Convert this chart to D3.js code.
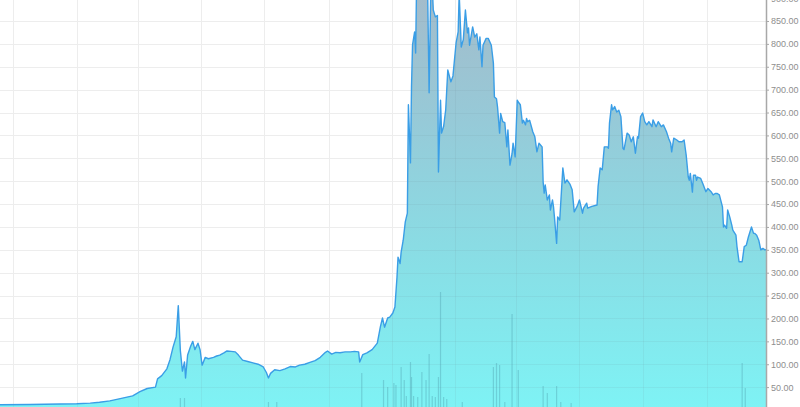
<!DOCTYPE html>
<html>
<head>
<meta charset="utf-8">
<script src="https://cdn.jsdelivr.net/npm/d3@7"></script>
<style>
html,body{margin:0;padding:0;background:#fff;overflow:hidden;}
svg{display:block;}
</style>
</head>
<body>
<svg id="chart" width="800" height="407"></svg>
<script>
// ---- data ----
const priceDates = ["2012-10-19","2012-11-17","2012-12-16","2013-01-01","2013-01-14","2013-01-23","2013-02-02","2013-02-12","2013-02-24","2013-03-03","2013-03-10","2013-03-18","2013-03-20","2013-03-24","2013-03-29","2013-04-01","2013-04-04","2013-04-07","2013-04-09","2013-04-11","2013-04-13","2013-04-15","2013-04-16","2013-04-18","2013-04-21","2013-04-23","2013-04-25","2013-04-28","2013-04-30","2013-05-02","2013-05-05","2013-05-08","2013-05-13","2013-05-16","2013-05-19","2013-05-23","2013-05-26","2013-05-30","2013-06-03","2013-06-06","2013-06-10","2013-06-15","2013-06-20","2013-06-25","2013-06-30","2013-07-03","2013-07-05","2013-07-07","2013-07-11","2013-07-16","2013-07-21","2013-07-26","2013-07-31","2013-08-04","2013-08-09","2013-08-14","2013-08-19","2013-08-24","2013-08-29","2013-08-31","2013-09-04","2013-09-08","2013-09-12","2013-09-17","2013-09-22","2013-09-26","2013-09-30","2013-10-01","2013-10-04","2013-10-08","2013-10-13","2013-10-18","2013-10-21","2013-10-23","2013-10-25","2013-10-28","2013-10-30","2013-11-02","2013-11-04","2013-11-06","2013-11-07","2013-11-09","2013-11-10","2013-11-12","2013-11-14","2013-11-16","2013-11-17","2013-11-19","2013-11-20","2013-11-21","2013-11-23","2013-11-24","2013-11-25","2013-11-27","2013-11-29","2013-12-01","2013-12-03","2013-12-05","2013-12-07","2013-12-09","2013-12-11","2013-12-13","2013-12-15","2013-12-16","2013-12-18","2013-12-19","2013-12-21","2013-12-23","2013-12-25","2013-12-28","2013-12-30","2014-01-02","2014-01-04","2014-01-05","2014-01-07","2014-01-09","2014-01-11","2014-01-13","2014-01-14","2014-01-15","2014-01-18","2014-01-20","2014-01-22","2014-01-24","2014-01-25","2014-01-27","2014-01-28","2014-01-31","2014-02-02","2014-02-05","2014-02-07","2014-02-08","2014-02-10","2014-02-11","2014-02-13","2014-02-14","2014-02-16","2014-02-18","2014-02-20","2014-02-21","2014-02-23","2014-02-25","2014-02-26","2014-02-28","2014-03-02","2014-03-03","2014-03-05","2014-03-07","2014-03-08","2014-03-10","2014-03-11","2014-03-12","2014-03-14","2014-03-17","2014-03-19","2014-03-21","2014-03-23","2014-03-26","2014-03-27","2014-03-28","2014-03-29","2014-03-31","2014-04-02","2014-04-03","2014-04-05","2014-04-06","2014-04-07","2014-04-09","2014-04-10","2014-04-12","2014-04-15","2014-04-17","2014-04-19","2014-04-22","2014-04-24","2014-04-26","2014-04-29","2014-05-01","2014-05-04","2014-05-05","2014-05-08","2014-05-09","2014-05-13","2014-05-18","2014-05-19","2014-05-21","2014-05-23","2014-05-25","2014-05-28","2014-05-29","2014-05-30","2014-06-01","2014-06-02","2014-06-04","2014-06-06","2014-06-08","2014-06-10","2014-06-12","2014-06-13","2014-06-16","2014-06-18","2014-06-20","2014-06-22","2014-06-24","2014-06-26","2014-06-27","2014-06-29","2014-07-01","2014-07-03","2014-07-05","2014-07-07","2014-07-10","2014-07-11","2014-07-14","2014-07-16","2014-07-19","2014-07-21","2014-07-24","2014-07-26","2014-07-28","2014-07-29","2014-07-31","2014-08-03","2014-08-05","2014-08-08","2014-08-10","2014-08-12","2014-08-14","2014-08-15","2014-08-16","2014-08-18","2014-08-19","2014-08-21","2014-08-22","2014-08-23","2014-08-26","2014-08-28","2014-08-31","2014-09-02","2014-09-05","2014-09-07","2014-09-09","2014-09-11","2014-09-13","2014-09-16","2014-09-17","2014-09-18","2014-09-20","2014-09-21","2014-09-23","2014-09-25","2014-09-26","2014-09-29","2014-09-30","2014-10-02","2014-10-05","2014-10-07","2014-10-09","2014-10-11","2014-10-14","2014-10-16","2014-10-17","2014-10-19","2014-10-21","2014-10-23","2014-10-25","2014-10-27","2014-10-28"];
const priceValues = [11.5,12,13,13.5,15,17,20,25,31,40,47,50,68,75,90,110,138,160,228,130,85,105,70,120,140,150,132,146,132,98,115,112,115,118,120,125,129,128,127,120,109,106,103,100,94,82,70,80,88,86,90,95,94,98,100,104,108,115,126,129,122,126,125,127,127,128,127,105,121,125,132,146,182,201,181,201,203,212,225,290,334,320,345,371,411,430,667,540,706,798,826,780,950,1080,1150,1120,1050,1000,693,980,874,859,862,520,677,605,620,656,743,717,730,802,826,910,793,810,874,824,835,797,837,815,822,787,815,750,797,812,812,797,758,684,680,662,605,648,630,628,575,612,535,560,583,553,677,673,667,627,633,623,637,630,633,608,597,564,583,575,498,474,492,459,470,437,459,444,419,364,422,415,529,496,503,493,481,433,446,459,430,441,452,441,445,448,488,529,525,575,575,572,627,667,656,663,651,655,641,572,569,605,601,586,597,561,597,594,641,649,630,623,630,619,634,619,630,619,623,608,594,583,564,594,590,586,586,590,557,509,502,517,476,513,513,502,509,506,495,477,484,477,470,473,473,470,444,400,404,397,437,422,404,393,382,357,324,324,357,360,378,400,386,386,382,371,350,353,350,350];

const volumeDates = ["2013-04-11","2013-04-15","2013-07-05","2013-07-13","2013-10-03","2013-10-24","2013-10-28","2013-11-03","2013-11-05","2013-11-10","2013-11-13","2013-11-15","2013-11-19","2013-11-20","2013-11-22","2013-11-26","2013-11-30","2013-12-04","2013-12-07","2013-12-10","2013-12-13","2013-12-16","2013-12-18","2013-12-21","2013-12-24","2014-01-08","2014-02-07","2014-02-10","2014-02-13","2014-02-18","2014-02-25","2014-03-03","2014-03-27","2014-03-31","2014-04-09","2014-04-13","2014-04-23","2014-10-05","2014-10-08"];
const volumeValues = [12,12,8,8,37,30,23,27,25,43,30,14,48,33,14,13,38,30,56,14,13,33,118,13,11,8,43,47,45,8,96,40,24,17,24,8,7,47,22];

const yTicks = [50,100,150,200,250,300,350,400,450,500,550,600,650,700,750,800,850,900];

// ---- chart ----
const parse = d3.utcParse("%Y-%m-%d");
const prices = priceDates.map((d,i)=>({date:parse(d), value:priceValues[i]}));
const volumes = volumeDates.map((d,i)=>({date:parse(d), value:volumeValues[i]}));

const svg = d3.select("#chart");
const plotRight = 766;

const x = d3.scaleUtc()
  .domain([parse("2012-10-19"), parse("2014-10-28")])
  .range([0, plotRight]);
const y = d3.scaleLinear().domain([0, 850]).range([410, 21]);
const yVol = d3.scaleLinear().domain([0, 120]).range([410, 290]);
const monthTicks = x.ticks(d3.utcMonth.every(2));

// gradient
const defs = svg.append("defs");
const grad = defs.append("linearGradient")
  .attr("id","areaGrad").attr("gradientUnits","userSpaceOnUse")
  .attr("x1",0).attr("y1",0).attr("x2",0).attr("y2",410);
[["0%","#a3bccb"],["30%","#96cad8"],["65%","#88dfe6"],["100%","#7ef3f5"]]
  .forEach(([o,c])=>grad.append("stop").attr("offset",o).attr("stop-color",c));

const area = d3.area().x(d=>x(d.date)).y0(410).y1(d=>y(d.value));
defs.append("clipPath").attr("id","areaClip")
  .append("path").datum(prices).attr("d",area);

// grid
function drawGrid(g, color){
  g.selectAll("line.h").data(yTicks).join("line").attr("class","h")
    .attr("x1",0).attr("x2",plotRight)
    .attr("y1",d=>Math.round(y(d))+0.5).attr("y2",d=>Math.round(y(d))+0.5)
    .attr("stroke",color).attr("stroke-width",1);
  g.selectAll("line.v").data(monthTicks).join("line").attr("class","v")
    .attr("x1",d=>Math.round(x(d))+0.5).attr("x2",d=>Math.round(x(d))+0.5)
    .attr("y1",0).attr("y2",407)
    .attr("stroke",color).attr("stroke-width",1);
}
drawGrid(svg.append("g"), "#ededed");

// area
svg.append("path").datum(prices).attr("d",area).attr("fill","url(#areaGrad)");

// faint grid over area
drawGrid(svg.append("g").attr("clip-path","url(#areaClip)"), "rgba(110,140,150,0.10)");

// volume bars
svg.append("g").selectAll("rect").data(volumes).join("rect")
  .attr("x",d=>x(d.date)-0.6).attr("width",1.2)
  .attr("y",d=>yVol(d.value)).attr("height",d=>410-yVol(d.value))
  .attr("fill","rgba(80,160,175,0.40)");

// line
const line = d3.line().x(d=>x(d.date)).y(d=>y(d.value));
svg.append("path").datum(prices).attr("d",line)
  .attr("fill","none").attr("stroke","#3a9ee6").attr("stroke-width",1.4)
  .attr("stroke-linejoin","round");

// right axis
const axis = d3.axisRight(y).tickValues(yTicks).tickFormat(d3.format(".2f"))
  .tickSize(3).tickPadding(2);
const ag = svg.append("g").attr("transform",`translate(${plotRight},0)`).call(axis);
ag.select(".domain").attr("stroke","#a8a8a8").attr("stroke-width",1.5).attr("d","M0.5,-5V410");
ag.selectAll(".tick line").attr("stroke","#a8a8a8");
ag.selectAll(".tick text").attr("fill","#8e8e8e")
  .style("font-family","'Liberation Sans', Arial, sans-serif").style("font-size","9px");
</script>
</body>
</html>
